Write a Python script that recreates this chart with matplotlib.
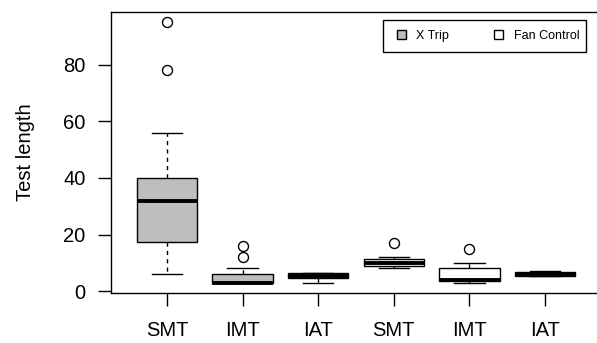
import matplotlib
matplotlib.use("Agg")
import matplotlib.pyplot as plt
from matplotlib.patches import Patch, Rectangle

plt.rcParams['font.family'] = ['Liberation Sans', 'DejaVu Sans']

# boxplot summaries (X Trip first three, Fan Control last three)
labels = ["SMT", "IMT", "IAT", "SMT", "IMT", "IAT"]
whislo = [6, 3, 3, 8, 3, 5.5]
q1 = [17.5, 3, 4.5, 9, 3.5, 5.5]
med = [32, 3, 5.2, 10, 4, 6]
q3 = [40, 6, 6.3, 11.3, 8, 6.6]
whishi = [56, 8, 6.3, 12, 10, 7]
fliers = [[78, 95], [12, 16], [], [17], [15], []]
fills = ["#BEBEBE"] * 3 + ["white"] * 3
series = ["X Trip", "Fan Control"]

stats = []
for i in range(len(labels)):
    stats.append(dict(label=labels[i], whislo=whislo[i], q1=q1[i], med=med[i],
                      q3=q3[i], whishi=whishi[i], fliers=fliers[i]))

W, H = 597, 343
fig = plt.figure(figsize=(W / 100, H / 100), dpi=100)
ax = fig.add_axes([111/W, 50/H, 490/W, 281/H])

bp = ax.bxp(stats, positions=range(1, 7), widths=0.8, patch_artist=True,
            boxprops=dict(edgecolor="black", linewidth=1.0),
            medianprops=dict(color="black", linewidth=2.8, solid_capstyle="butt"),
            whiskerprops=dict(color="black", linewidth=1.0, linestyle=(0, (3, 3))),
            capprops=dict(color="black", linewidth=1.0),
            capwidths=0.4,
            flierprops=dict(marker="o", markerfacecolor="none", markeredgecolor="black",
                            markersize=7.2, markeredgewidth=1.0))
for patch, c in zip(bp["boxes"], fills):
    patch.set_facecolor(c)

ax.set_xlim(0.26, 6.74)
ax.set_ylim(-0.68, 98.68)
ax.set_yticks([0, 20, 40, 60, 80])
ax.tick_params(axis="both", labelsize=14.5, length=9.4, width=1.0, color="black")
ax.tick_params(axis="y", pad=9)
ax.tick_params(axis="x", pad=10.5)
ax.set_ylabel("Test length", fontsize=14.5, labelpad=20)
for s in ax.spines.values():
    s.set_linewidth(1.0)
    s.set_color("black")

# legend: entries drawn by matplotlib, frame drawn to match R's uneven padding
handles = [Patch(facecolor=fills[0], edgecolor="black", linewidth=1.0),
           Patch(facecolor=fills[3], edgecolor="black", linewidth=1.0)]
leg = ax.legend(handles, series, ncol=2, fontsize=9,
                loc="center left", bbox_to_anchor=(397/W, 1 - 36/H),
                bbox_transform=fig.transFigure, borderaxespad=0, borderpad=0,
                frameon=False, handlelength=0.7, handleheight=0.7,
                handletextpad=0.85, columnspacing=3.6)
fig.patches.append(Rectangle((383/W, 1 - 52/H), 203/W, 32/H, transform=fig.transFigure,
                             fill=False, edgecolor="black", linewidth=1.0))

fig.savefig("out.png", dpi=100)
